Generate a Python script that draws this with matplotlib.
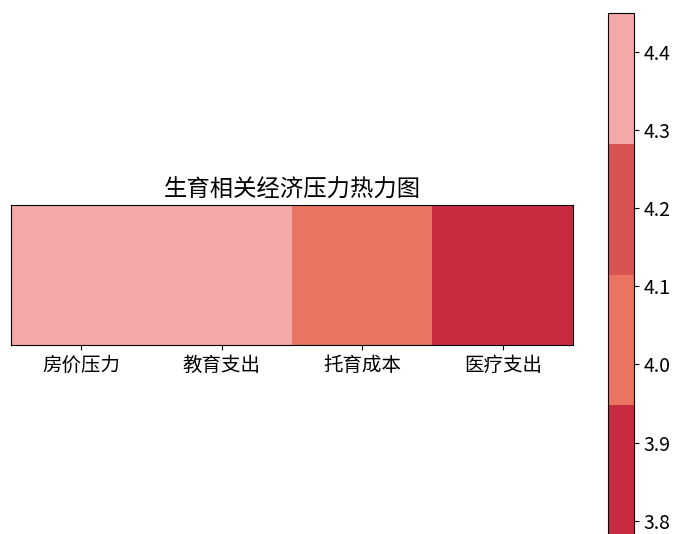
import matplotlib
matplotlib.use("Agg")
import matplotlib.pyplot as plt
import numpy as np
from matplotlib.colors import ListedColormap

plt.rcParams["font.family"] = ["Noto Sans CJK SC", "DejaVu Sans"]

categories = ["房价压力", "教育支出", "托育成本", "医疗支出"]
pressure = [4.45, 4.45, 4.0, 3.78]
band_colors = ["#C82C40", "#E87461", "#D85450", "#F4A8A8"]
title = "生育相关经济压力热力图"

fig = plt.figure(figsize=(6.78, 5.34), dpi=100)
ax = fig.add_axes([11 / 678, 189 / 534, 562 / 678, 140 / 534])
cax = fig.add_axes([608 / 678, -0.004, 26 / 678, 0.979])

cmap = ListedColormap(band_colors)
im = ax.imshow(np.array([pressure]), cmap=cmap, aspect="auto",
               vmin=min(pressure), vmax=max(pressure))
ax.set_xticks(range(len(categories)))
ax.set_xticklabels(categories, fontsize=14)
ax.set_yticks([])
ax.set_title(title, fontsize=16.8, pad=6)

cb = fig.colorbar(im, cax=cax)
cb.set_ticks([3.8, 3.9, 4.0, 4.1, 4.2, 4.3, 4.4])
cb.ax.tick_params(labelsize=14)

fig.savefig("out.png", dpi=100, facecolor="white")
